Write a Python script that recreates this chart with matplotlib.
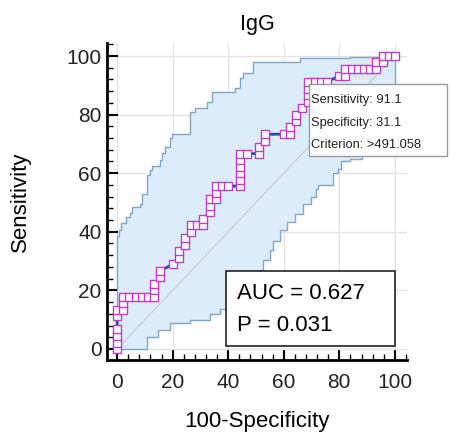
import numpy as np
import matplotlib.pyplot as plt
from matplotlib.patches import Rectangle
from matplotlib.ticker import MultipleLocator

plt.rcParams['font.family'] = ['Liberation Sans', 'DejaVu Sans']

# ROC points (100-specificity, sensitivity)
fpr = [0, 0, 0, 0, 0, 0,
       2.2, 2.2, 2.2, 4.4, 6.7, 8.9, 11.1, 13.3, 13.3, 13.3,
       15.6, 15.6, 20.0, 22.2, 22.2, 24.4, 24.4, 26.7, 26.7,
       28.9, 31.1, 31.1, 33.3, 33.3, 33.3, 35.6, 35.6, 35.6, 37.8, 40.0,
       44.4, 44.4, 44.4, 44.4, 44.4, 44.4, 46.7, 51.1, 51.1, 53.3, 53.3,
       60.0, 62.2, 62.2, 64.4, 64.4, 66.7, 68.9, 68.9, 68.9, 68.9,
       71.1, 73.3, 75.6, 80.0, 82.2, 82.2, 84.4, 86.7, 88.9, 91.1, 93.3,
       93.3, 95.6, 95.6, 97.8, 100.0]
sens = [0, 2.2, 4.4, 6.7, 11.1, 13.3,
        13.3, 15.6, 17.8, 17.8, 17.8, 17.8, 17.8, 17.8, 20.0, 22.2,
        24.4, 26.7, 28.9, 31.1, 33.3, 35.6, 37.8, 40.0, 42.2,
        42.2, 42.2, 44.4, 46.7, 48.9, 51.1, 51.1, 53.3, 55.6, 55.6, 55.6,
        55.6, 57.8, 60.0, 62.2, 64.4, 66.7, 66.7, 66.7, 68.9, 71.1, 73.3,
        73.3, 73.3, 75.6, 77.8, 80.0, 82.2, 84.4, 86.7, 88.9, 91.1,
        91.1, 91.1, 91.1, 93.3, 93.3, 95.6, 95.6, 95.6, 95.6, 95.6, 95.6,
        97.8, 97.8, 100.0, 100.0, 100.0]

# 95% confidence band, step corners
upper_x = [0, 0, 0.8, 1.5, 3.3, 4.5, 5.5, 8.2, 9.1, 10.6, 10.9, 11.8, 12.4,
           15.4, 16.0, 17.2, 19.0, 19.6, 26.2, 28.0, 32.2, 34.0, 42.4, 44.2,
           45.4, 49.0, 66.0, 84.0, 100.0]
upper_y = [0, 38.5, 40.5, 43.0, 45.0, 46.5, 48.3, 49.5, 52.8, 55.5, 59.4, 61.2,
           62.3, 64.5, 66.8, 69.1, 71.9, 73.3, 81.0, 82.2, 84.4, 87.8, 89.0,
           92.4, 94.1, 98.0, 99.2, 99.8, 100.0]
lower_x = [0, 10.6, 14.8, 19.1, 26.2, 33.3, 37.0, 41.0, 45.0, 49.0, 51.4, 52.6,
           55.0, 56.0, 58.6, 61.0, 63.9, 67.0, 69.9, 71.7, 72.3, 77.8, 79.5,
           80.5, 83.7, 88.0, 93.0, 100.0, 100.0]
lower_y = [0, 4.2, 6.4, 8.7, 10.0, 12.1, 13.8, 16.0, 20.0, 24.0, 27.0, 30.5,
           33.9, 37.0, 40.7, 43.5, 46.2, 49.6, 52.0, 54.6, 55.8, 60.0, 61.5,
           64.0, 65.0, 72.0, 82.0, 90.0, 100.0]

auc_text = ["AUC = 0.627", "P = 0.031"]
tip_text = ["Sensitivity: 91.1", "Specificity: 31.1", "Criterion: >491.058"]


def steps(x, y):
    xs = np.repeat(x, 2)[1:]
    ys = np.repeat(y, 2)[:-1]
    return xs, ys


fig = plt.figure(figsize=(4.5, 4.37), dpi=100)
ax = fig.add_axes([0.238, 0.176, 0.666, 0.726])

ux, uy = steps(upper_x, upper_y)
lx, ly = steps(lower_x, lower_y)
ax.fill(np.concatenate([ux, lx[::-1]]), np.concatenate([uy, ly[::-1]]),
        color='#ddecfb', lw=0, zorder=1)
ax.plot(ux, uy, color='#7fa6c8', lw=1, zorder=2)
ax.plot(lx, ly, color='#7fa6c8', lw=1, zorder=2)

ax.plot([0, 100], [0, 100], color='#c8c8c8', lw=0.8, zorder=2)
ax.plot(fpr, sens, color='#1f4fa0', lw=2, marker='s', ms=5.5,
        mfc='white', mec='#c03cc0', mew=1, zorder=3)

ax.set_xlim(-3.6, 104.3)
ax.set_ylim(-3.8, 104.5)
ax.xaxis.set_major_locator(MultipleLocator(20))
ax.yaxis.set_major_locator(MultipleLocator(20))
ax.xaxis.set_minor_locator(MultipleLocator(4))
ax.yaxis.set_minor_locator(MultipleLocator(4))
ax.grid(True, which='major', color='#e3e3e3', lw=1, zorder=0)
ax.set_axisbelow(True)
for s in ['top', 'right']:
    ax.spines[s].set_visible(False)
for s in ['left', 'bottom']:
    ax.spines[s].set_linewidth(2)
ax.tick_params(which='major', direction='in', length=8, width=1.5, labelsize=15,
               labelcolor='#222222')
ax.tick_params(which='minor', direction='in', length=4.5, width=1)
ax.tick_params(axis='x', which='major', pad=9)
ax.tick_params(axis='y', which='major', pad=4)

ax.set_title("IgG", fontsize=15.5, pad=9)
ax.set_xlabel("100-Specificity", fontsize=16)
ax.set_ylabel("Sensitivity", fontsize=16)
ax.xaxis.set_label_coords(0.5, -0.16)
ax.yaxis.set_label_coords(-0.255, 0.5)

# AUC box
ax.add_patch(Rectangle((39.2, 0.9), 60.8, 25.8, facecolor='white',
                       edgecolor='#222222', lw=1.2, zorder=5))
ax.text(43, 18.9, auc_text[0], fontsize=16, va='center', zorder=6)
ax.text(43, 8.1, auc_text[1], fontsize=16, va='center', zorder=6)

# criterion tooltip
ax.add_patch(Rectangle((69.1, 65.8), 49.5, 24.7, facecolor='white',
                       edgecolor='#999999', lw=1, zorder=5, clip_on=False))
for k, t in enumerate(tip_text):
    ax.text(69.8, 85 - 7.7 * k, t, fontsize=9.3, va='center', zorder=6,
            color='#222222', clip_on=False)

fig.savefig('out.png', dpi=100)
